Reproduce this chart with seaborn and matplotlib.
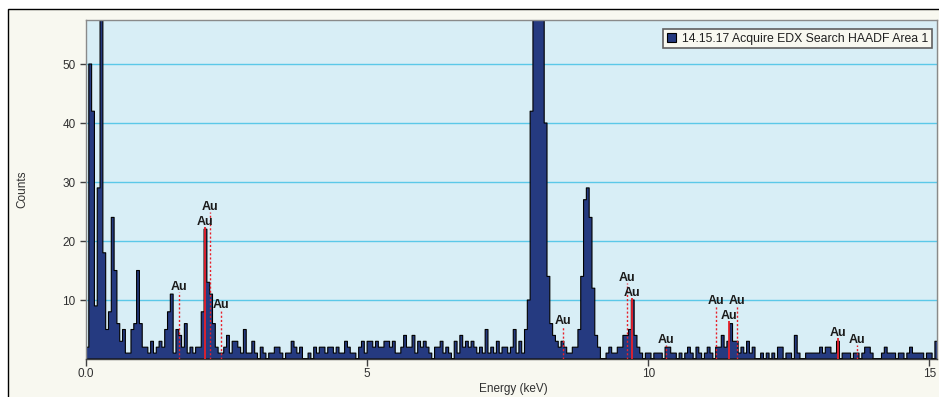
import numpy as np
import pandas as pd
import matplotlib
matplotlib.use("Agg")
import matplotlib.pyplot as plt
from matplotlib.patches import Rectangle
import seaborn as sns

# ---------------- data (counts per 0.05 keV channel) ----------------
channel_width = 0.05
seg_00_01 = [2, 50, 42, 9, 29, 80, 18, 5, 8, 24, 15, 6, 3, 5, 1, 1, 5, 6, 15, 6]
seg_01_02 = [2, 2, 1, 3, 1, 2, 3, 2, 5, 8, 11, 1, 5, 4, 2, 6, 1, 2, 1, 2]
seg_02_03 = [2, 8, 22, 13, 11, 6, 2, 1, 1, 2, 4, 1, 3, 3, 2, 1, 5, 1, 1, 3]
seg_03_04 = [1, 0, 2, 1, 0, 1, 1, 2, 2, 1, 0, 1, 1, 3, 2, 1, 2, 0, 0, 1]
seg_04_05 = [0, 2, 1, 2, 2, 1, 2, 2, 1, 2, 1, 1, 3, 2, 1, 1, 0, 2, 3, 1]
seg_05_06 = [3, 3, 2, 3, 2, 2, 3, 3, 2, 3, 1, 1, 2, 4, 2, 2, 4, 1, 3, 2]
seg_06_07 = [3, 2, 1, 0, 2, 2, 3, 1, 2, 1, 0, 3, 1, 4, 2, 3, 2, 3, 2, 1]
seg_07_08 = [2, 1, 5, 1, 2, 1, 3, 1, 2, 2, 1, 2, 5, 1, 3, 1, 5, 10, 42, 80]
seg_08_09 = [110, 105, 85, 40, 14, 6, 4, 3, 2, 3, 2, 1, 1, 2, 2, 5, 14, 27, 29, 24]
seg_09_10 = [12, 4, 2, 0, 0, 1, 2, 1, 1, 2, 2, 4, 4, 5, 10, 4, 2, 1, 0, 1]
seg_10_11 = [1, 0, 1, 1, 1, 0, 2, 2, 1, 1, 0, 1, 0, 1, 2, 1, 0, 2, 1, 0]
seg_11_12 = [1, 2, 1, 0, 2, 2, 4, 2, 3, 6, 3, 3, 1, 2, 1, 3, 1, 2, 0, 0]
seg_12_13 = [1, 0, 1, 0, 1, 0, 2, 2, 0, 1, 1, 0, 4, 1, 0, 0, 1, 1, 1, 1]
seg_13_14 = [1, 2, 1, 2, 2, 1, 1, 3, 0, 1, 1, 1, 0, 1, 1, 0, 1, 2, 2, 1]
seg_14_15 = [0, 0, 0, 1, 2, 1, 1, 1, 0, 1, 1, 0, 1, 2, 1, 1, 1, 1, 0, 1]
seg_15_end = [1, 0, 3]

# Au line markers
au_energy = [1.66, 2.12, 2.20, 2.41, 8.49, 9.63, 9.71, 10.31, 11.21, 11.44, 11.58, 13.38, 13.71]
au_label_y = [12.4, 23.5, 26.0, 9.4, 6.6, 13.9, 11.4, 3.5, 10.0, 7.5, 10.0, 4.6, 3.5]
au_major = [False, True, False, False, False, False, True, False, False, True, False, True, False]
au_text = "Au"

legend_label = "14.15.17 Acquire EDX Search HAADF Area 1"
x_ticks = [0, 5, 10, 15]
x_tick_labels = ["0.0", "5", "10", "15"]
y_ticks = [10, 20, 30, 40, 50]
x_label = "Energy (keV)"
y_label = "Counts"

# ---------------- styling ----------------
navy = "#253A80"
plot_bg = "#D8EEF6"
grid_col = "#5BC8E8"
panel_bg = "#F8F8F0"
red = "#E8202A"

sns.set_theme(style="white")
plt.rcParams["font.family"] = ["Liberation Sans", "DejaVu Sans"]

counts = (seg_00_01 + seg_01_02 + seg_02_03 + seg_03_04 + seg_04_05 + seg_05_06
          + seg_06_07 + seg_07_08 + seg_08_09 + seg_09_10 + seg_10_11 + seg_11_12
          + seg_12_13 + seg_13_14 + seg_14_15 + seg_15_end)
n = len(counts)
edges = [round(i * channel_width, 4) for i in range(n + 1)]
centers = [round((i + 0.5) * channel_width, 4) for i in range(n)]
df = pd.DataFrame({"energy": centers, "counts": counts})

W, H = 939, 397
fig = plt.figure(figsize=(W / 100, H / 100), dpi=100, facecolor="white")
fig.patches.append(Rectangle((8 / W, -0.2), 1.5, (H - 9) / H + 0.2,
                             transform=fig.transFigure, facecolor=panel_bg,
                             edgecolor="black", linewidth=1.0, zorder=-10))

ax = fig.add_axes([86 / W, (H - 359) / H, (937 - 86) / W, (359 - 20) / H])
ax.set_zorder(1)
ax.set_facecolor(plot_bg)
for v in y_ticks:
    ax.axhline(v, color=grid_col, lw=1.0, zorder=0.5)

sns.histplot(data=df, x="energy", weights="counts", bins=edges, element="step",
             fill=True, color=navy, edgecolor="black", linewidth=0.8, alpha=1,
             ax=ax, label=legend_label, zorder=2)

for e, ly, major in zip(au_energy, au_label_y, au_major):
    top = ly - 1.1
    if major:
        ax.plot([e, e], [0, top], color=red, lw=1.3, zorder=3, solid_capstyle="butt")
    else:
        ax.plot([e, e], [0, top], color=red, lw=1.0, ls=(0, (1.5, 1.5)), zorder=3)
    ax.text(e, ly - 0.75, au_text, ha="center", va="baseline", fontsize=9,
            fontweight="bold", color="#1A1A1A", zorder=4)

ax.set_xlim(0, 15.137)
ax.set_ylim(0, 57.46)
ax.set_xticks(x_ticks)
ax.set_xticklabels(x_tick_labels)
ax.set_yticks(y_ticks)
ax.tick_params(axis="x", direction="out", length=5, width=1, color="#404040",
               labelsize=8.5, labelcolor="#303030", pad=1.5, bottom=True)
ax.tick_params(axis="y", direction="out", length=4, width=1, color="#404040",
               labelsize=8.5, labelcolor="#303030", pad=3.5, left=True)
ax.set_xlabel("")
ax.set_ylabel("")
for side in ["left", "top", "right"]:
    ax.spines[side].set_color("#8A8A8A")
    ax.spines[side].set_linewidth(1.0)
ax.spines["bottom"].set_color("#404040")
ax.spines["bottom"].set_linewidth(1.0)

fig.text(22 / W, (H - 189) / H, y_label, rotation=90, ha="center", va="center",
         fontsize=8.5, color="#303030")
fig.text(513 / W, (H - 389) / H, x_label, ha="center", va="center",
         fontsize=8.5, color="#303030")

leg = ax.legend(loc="upper right", bbox_to_anchor=((931.7 - 86) / 851, (359 - 29) / 339),
                frameon=True, fancybox=False, edgecolor="#606060", facecolor=panel_bg,
                framealpha=1, fontsize=8.8, handlelength=0.7, handleheight=0.7,
                handletextpad=0.5, borderpad=0.3, borderaxespad=0)
leg.get_frame().set_linewidth(1.2)
for t in leg.get_texts():
    t.set_color("#202020")

fig.savefig("out.png", dpi=100, facecolor="white")
